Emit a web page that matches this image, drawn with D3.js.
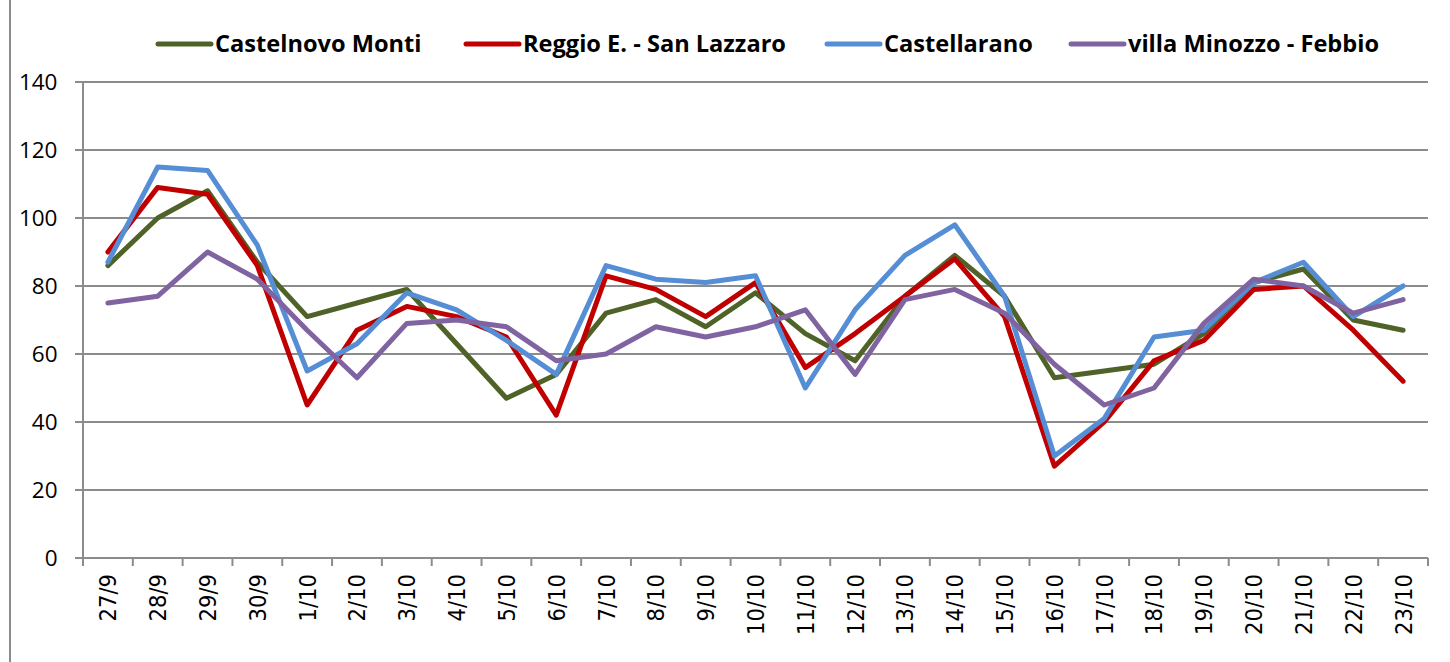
<!DOCTYPE html>
<html><head><meta charset="utf-8">
<script src="https://cdn.jsdelivr.net/npm/d3@7"></script>
<style>body{margin:0;background:#fff}svg{display:block}</style>
</head><body><svg id="c" width="1450" height="662"></svg>
<script>
const categories = ["27/9","28/9","29/9","30/9","1/10","2/10","3/10","4/10","5/10","6/10","7/10","8/10","9/10","10/10","11/10","12/10","13/10","14/10","15/10","16/10","17/10","18/10","19/10","20/10","21/10","22/10","23/10"];
const seriesNames = ["Castelnovo Monti","Reggio E. - San Lazzaro","Castellarano","villa Minozzo - Febbio"];
const castelnovo = [86,100,108,87,71,75,79,63,47,54,72,76,68,78,66,58,77,89,77,53,55,57,66,81,85,70,67];
const reggio = [90,109,107,86,45,67,74,71,65,42,83,79,71,81,56,66,77,88,71,27,40,58,64,79,80,67,52];
const castellarano = [87,115,114,92,55,63,78,73,64,54,86,82,81,83,50,73,89,98,77,30,41,65,67,81,87,71,80];
const villa = [75,77,90,82,67,53,69,70,68,58,60,68,65,68,73,54,76,79,72,57,45,50,69,82,80,72,76];
const yTicks = [0,20,40,60,80,100,120,140];
const colors = ["#4F6228","#C00000","#558ED5","#8064A2"];
const seriesValues = [castelnovo, reggio, castellarano, villa];

const svg = d3.select("#c");
const pL = 83, pR = 1428, pT = 82, pB = 558;
const x = d3.scaleBand().domain(categories).range([pL, pR]).padding(0);
const y = d3.scaleLinear().domain([0,140]).range([pB, pT]);

svg.append("line").attr("x1",10).attr("x2",10).attr("y1",0).attr("y2",662).attr("stroke","#8c8c8c").attr("stroke-width",2);

svg.append("g").selectAll("line").data(yTicks).join("line")
  .attr("x1", pL-8).attr("x2", pR).attr("y1", d=>y(d)).attr("y2", d=>y(d))
  .attr("stroke","#8c8c8c").attr("stroke-width",2);

svg.append("line").attr("x1",pL).attr("x2",pL).attr("y1",pT).attr("y2",pB).attr("stroke","#8c8c8c").attr("stroke-width",2);

svg.append("g").selectAll("text").data(yTicks).join("text")
  .attr("x", 57.5).attr("y", d=>y(d)).attr("dy","0.36em").attr("text-anchor","end")
  .attr("font-family","Open Sans").attr("font-size",22.5).attr("fill","#000").text(d=>d);

const bounds = categories.map(c=>x(c)).concat([pR]);
svg.append("g").selectAll("line").data(bounds).join("line")
  .attr("x1",d=>d).attr("x2",d=>d).attr("y1",pB).attr("y2",pB+8)
  .attr("stroke","#8c8c8c").attr("stroke-width",2);

svg.append("g").selectAll("text").data(categories).join("text")
  .attr("transform", d=>`translate(${x(d)+x.bandwidth()/2},574) rotate(-90)`)
  .attr("text-anchor","end").attr("dy","0.36em")
  .attr("font-family","'DejaVu Sans Condensed', 'DejaVu Sans'").attr("font-stretch","condensed")
  .attr("font-size",23.5).attr("fill","#000").text(d=>d);

const line = d3.line().x((d,i)=>x(categories[i])+x.bandwidth()/2).y(d=>y(d));
seriesValues.forEach((vals,k)=>{
  svg.append("path").attr("d", line(vals)).attr("fill","none")
    .attr("stroke", colors[k]).attr("stroke-width",5).attr("stroke-linejoin","round").attr("stroke-linecap","round");
});

const legX = [158, 466, 827, 1071];
const lg = svg.append("g");
seriesNames.forEach((n,k)=>{
  lg.append("line").attr("x1",legX[k]).attr("x2",legX[k]+53).attr("y1",44).attr("y2",44)
    .attr("stroke",colors[k]).attr("stroke-width",5).attr("stroke-linecap","round");
  lg.append("text").attr("x",legX[k]+57).attr("y",44).attr("dy","0.36em")
    .attr("font-family","Open Sans").attr("font-weight","bold").attr("font-size",23.6).attr("fill","#000").text(n);
});
</script></body></html>
